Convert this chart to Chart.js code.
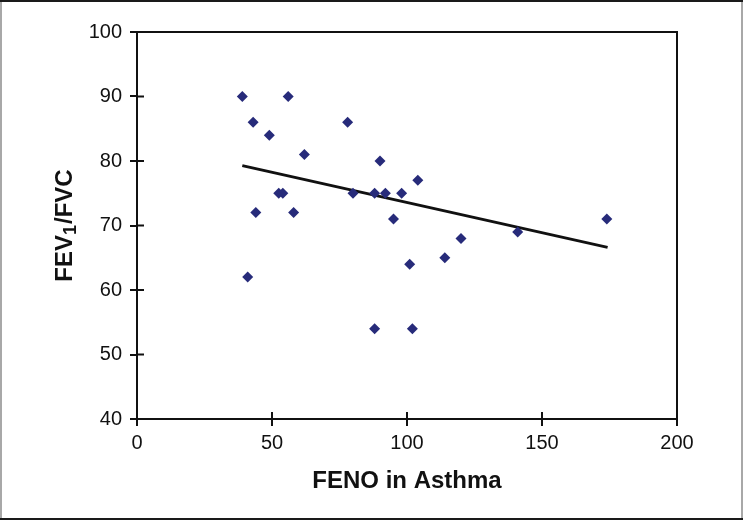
<!DOCTYPE html>
<html>
<head>
<meta charset="utf-8">
<script src="https://cdn.jsdelivr.net/npm/chart.js@4.4.1/dist/chart.umd.min.js"></script>
<style>
body { margin: 0; background: #fff; }
#wrap { width: 743px; height: 520px; }
</style>
</head>
<body>
<div id="wrap"><canvas id="fenoChart"></canvas></div>
<script>
// values
const fenoValues   = [39, 56, 43, 49, 62, 78, 90, 104, 52.5, 54, 80, 88, 92, 98, 44, 58, 95, 120, 114, 101, 41, 88, 102, 141, 174];
const fevFvcValues = [90, 90, 86, 84, 81, 86, 80, 77, 75, 75, 75, 75, 75, 75, 72, 72, 71, 68, 65, 64, 62, 54, 54, 69, 71];

// trend line end points
const trendX = [39, 174.3];
const trendY = [79.3, 66.6];

const xMin = 0, xMax = 200, xStep = 50;
const yMin = 40, yMax = 100, yStep = 10;

const ink = '#111';
const markerColor = '#272b7a';

const points = fenoValues.map((v, i) => ({ x: v, y: fevFvcValues[i] }));
const trend = trendX.map((v, i) => ({ x: v, y: trendY[i] }));

// white page, outer frame, plot box, inner half of the ticks, y title with subscript
const framePlugin = {
    id: 'framePlugin',
    beforeDraw(chart) {
        const c = chart.ctx;
        c.save();
        c.fillStyle = '#fff';
        c.fillRect(0, 0, chart.width, chart.height);
        c.fillStyle = '#a8a8a8';
        c.fillRect(0, 0, 2, chart.height);
        c.fillRect(chart.width - 2, 0, 2, chart.height);
        c.fillStyle = '#1a1a1a';
        c.fillRect(0, 0, chart.width, 2);
        c.fillRect(0, chart.height - 2, chart.width, 2);
        c.restore();
    },
    afterDraw(chart) {
        const c = chart.ctx;
        const a = chart.chartArea;
        const xs = chart.scales.x, ys = chart.scales.y;
        c.save();
        c.strokeStyle = ink;
        c.lineWidth = 2;
        c.strokeRect(a.left, a.top, a.right - a.left, a.bottom - a.top);
        c.beginPath();
        for (let v = xMin + xStep; v < xMax; v += xStep) {
            const px = xs.getPixelForValue(v);
            c.moveTo(px, a.bottom);
            c.lineTo(px, a.bottom - 7);
        }
        for (let v = yMin + yStep; v < yMax; v += yStep) {
            const py = ys.getPixelForValue(v);
            c.moveTo(a.left, py);
            c.lineTo(a.left + 7, py);
        }
        c.stroke();

        // y axis title: FEV1/FVC with subscript 1
        const big = 'bold 24px "Liberation Sans", Arial, sans-serif';
        const small = 'bold 18px "Liberation Sans", Arial, sans-serif';
        c.font = big;
        const w1 = c.measureText('FEV').width;
        const w3 = c.measureText('/FVC').width;
        c.font = small;
        const w2 = c.measureText('1').width + 1;
        const total = w1 + w2 + w3;
        c.translate(72, (a.top + a.bottom) / 2);
        c.rotate(-Math.PI / 2);
        c.fillStyle = ink;
        c.textBaseline = 'alphabetic';
        c.textAlign = 'left';
        let x = -total / 2;
        c.font = big;
        c.fillText('FEV', x, 0);
        x += w1;
        c.font = small;
        c.fillText('1', x, 4);
        x += w2;
        c.font = big;
        c.fillText('/FVC', x, 0);
        c.restore();
    }
};

new Chart(document.getElementById('fenoChart'), {
    type: 'scatter',
    data: {
        datasets: [{
            label: 'FEV1/FVC',
            data: points,
            pointStyle: 'rectRot',
            pointRadius: 5.5,
            pointHoverRadius: 5.5,
            backgroundColor: markerColor,
            borderColor: markerColor,
            borderWidth: 0
        }, {
            label: 'Trend',
            type: 'line',
            data: trend,
            borderColor: ink,
            borderWidth: 2.8,
            pointRadius: 0,
            fill: false
        }]
    },
    options: {
        responsive: true,
        maintainAspectRatio: false,
        animation: false,
        layout: { padding: { top: 32, right: 66, left: 0, bottom: 0 } },
        plugins: {
            legend: { display: false },
            tooltip: { enabled: false }
        },
        scales: {
            x: {
                type: 'linear',
                min: xMin,
                max: xMax,
                afterFit(scale) { scale.height = 101; },
                ticks: {
                    stepSize: xStep,
                    color: ink,
                    padding: 5,
                    font: { family: '"Liberation Sans", Arial, sans-serif', size: 20 }
                },
                grid: { display: true, drawOnChartArea: false, drawTicks: true, tickLength: 7, color: ink, lineWidth: 2 },
                border: { display: true, color: ink, width: 2 },
                title: {
                    display: true,
                    text: 'FENO in Asthma',
                    color: ink,
                    padding: { top: 0, bottom: 24 },
                    font: { family: '"Liberation Sans", Arial, sans-serif', size: 24, weight: 'bold' }
                }
            },
            y: {
                type: 'linear',
                min: yMin,
                max: yMax,
                afterFit(scale) { scale.width = 137; },
                ticks: {
                    stepSize: yStep,
                    color: ink,
                    padding: 8,
                    font: { family: '"Liberation Sans", Arial, sans-serif', size: 20 }
                },
                grid: { display: true, drawOnChartArea: false, drawTicks: true, tickLength: 7, color: ink, lineWidth: 2 },
                border: { display: true, color: ink, width: 2 }
            }
        }
    },
    plugins: [framePlugin]
});
</script>
</body>
</html>
